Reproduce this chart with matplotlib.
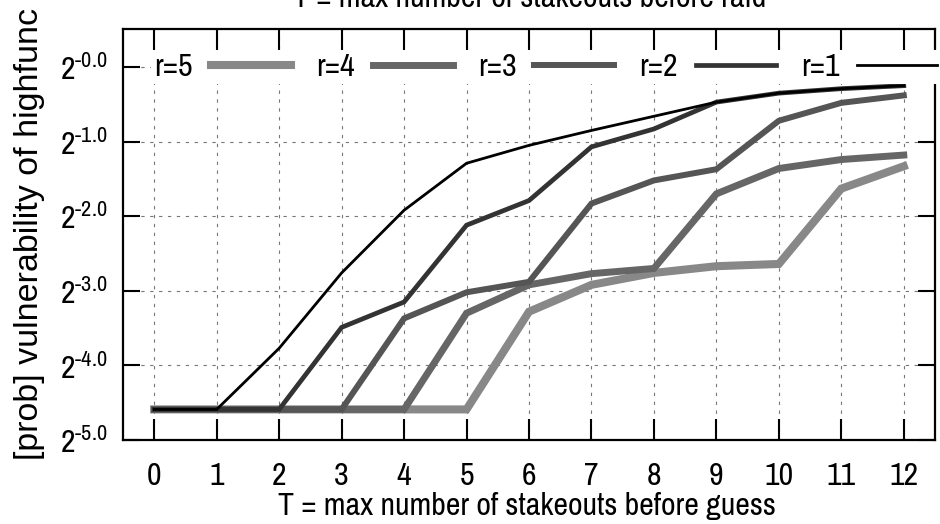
import numpy as np
import matplotlib
matplotlib.use("Agg")
from matplotlib import pyplot as plt
from matplotlib import font_manager

# the reference is squeezed sideways: horizontal text is narrow, the rotated label is not
names = {f.name for f in font_manager.fontManager.ttflist}
narrow = None
for n in ["Liberation Sans Narrow", "Arial Narrow"] + sorted(names):
    if n in names and ("Narrow" in n or "Condensed" in n):
        narrow = n
        break

fs = 23
if narrow:
    plt.rcParams["font.family"] = [narrow, "DejaVu Sans"]
    face = narrow
else:
    plt.rcParams["font.family"] = ["Liberation Sans", "DejaVu Sans"]
    face = "Liberation Sans"
    fs = 18
plt.rcParams["mathtext.fontset"] = "custom"
plt.rcParams["mathtext.rm"] = face
plt.rcParams["mathtext.it"] = face
plt.rcParams["mathtext.bf"] = face

# T values and log2 of the vulnerability
T = list(range(13))
r1 = [-4.59, -4.59, -3.77, -2.76, -1.92, -1.29, -1.05, -0.85, -0.66, -0.47, -0.35, -0.29, -0.25]
r2 = [-4.59, -4.59, -4.59, -3.49, -3.15, -2.12, -1.79, -1.07, -0.83, -0.47, -0.35, -0.29, -0.25]
r3 = [-4.59, -4.59, -4.59, -4.59, -3.37, -3.02, -2.88, -1.83, -1.52, -1.37, -0.72, -0.48, -0.38]
r4 = [-4.59, -4.59, -4.59, -4.59, -4.59, -3.30, -2.92, -2.77, -2.70, -1.70, -1.36, -1.24, -1.18]
r5 = [-4.59, -4.59, -4.59, -4.59, -4.59, -4.59, -3.28, -2.92, -2.76, -2.67, -2.64, -1.63, -1.33]

series = [r5, r4, r3, r2, r1]
labels = ["r=5", "r=4", "r=3", "r=2", "r=1"]
colors = ["#888888", "#666666", "#555555", "#333333", "#000000"]
widths = [5.8, 5.0, 4.3, 3.4, 2.0]

y_exps = [0, -1, -2, -3, -4, -5]
y_ticklabels = [r"$2^{\text{-%d.0}}$" % abs(e) for e in y_exps]

fig = plt.figure(figsize=(9.40, 5.24), dpi=100)
ax = fig.add_axes([123 / 940, 84 / 524, 812 / 940, 411 / 524])

for vals, lab, c, lw in zip(series, labels, colors, widths):
    ax.plot(T, 2.0 ** np.array(vals), color=c, lw=lw, label=lab,
            solid_joinstyle="miter", zorder=3)

ax.set_yscale("log", base=2)
ax.set_xlim(-0.5, 12.5)
ax.set_ylim(2.0 ** -5, 2.0 ** 0.51)
ax.set_xticks(T)
ax.set_xticklabels([str(t) for t in T])
ax.set_yticks([2.0 ** e for e in y_exps])
ax.set_yticklabels(y_ticklabels)
ax.yaxis.set_minor_locator(matplotlib.ticker.NullLocator())

ax.grid(True, color="#777777", lw=0.8, linestyle=(0, (3, 5)), zorder=1)
ax.set_axisbelow(True)

ax.tick_params(axis="x", direction="in", length=15, width=1.5, top=True,
               labelsize=fs, pad=16)
ax.tick_params(axis="y", direction="in", length=12, width=1.5, right=True,
               labelsize=fs, pad=11)
for s in ax.spines.values():
    s.set_linewidth(1.6)

# legend entries are 160 px apart, label before sample
em = fs * 100 / 72
leg = ax.legend(loc="upper left", bbox_to_anchor=(0.035, 0.95), ncol=5,
                markerfirst=False, fontsize=fs, handlelength=80 / em,
                handletextpad=18 / em, columnspacing=25 / em, borderpad=0.1,
                borderaxespad=0, frameon=True, fancybox=False,
                framealpha=1, edgecolor="none", facecolor="white")
leg.set_zorder(5)

fig.text(29.5 / 940, 1 - 234 / 524, "[prob] vulnerability of highfunc",
         rotation=90, ha="center", va="center", fontsize=24.5,
         family=["Liberation Sans", "DejaVu Sans"])
fig.text(527 / 940, (524 - 515) / 524, "T = max number of stakeouts before guess",
         ha="center", va="baseline", fontsize=fs)
fig.text(530 / 940, 1 - 7 / 524, "T = max number of stakeouts before raid",
         ha="center", va="baseline", fontsize=fs)

fig.savefig("out.png", dpi=100)
